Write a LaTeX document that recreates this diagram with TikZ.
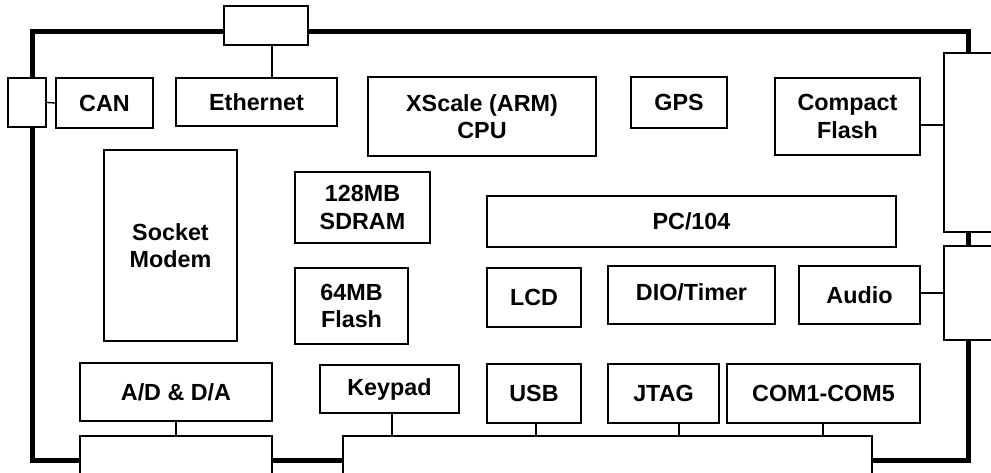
\documentclass[tikz,border=0pt]{standalone}
\usepackage{fontspec}
\setmainfont{Liberation Sans}
% \blk{x1}{y1}{x2}{y2}: a box from (x1,y1) to (x2,y2), name and text follow
\newcommand\blk[5][box]{\node[#1, minimum width={(#4-#2)*0.75pt}, minimum height={(#5-#3)*0.75pt}] at ({(#2+#4)/2},{(#3+#5)/2})}
\begin{document}
\begin{tikzpicture}[x=0.75pt,y=-0.75pt,
  lbl/.style={font=\bfseries\fontsize{17.5}{20.5}\selectfont},
  box/.style={draw, fill=white, line width=1.3pt, inner sep=0pt, align=center, lbl},
  port/.style={draw, fill=white, line width=1.3pt, inner sep=0pt},
  board/.style={line width=3.75pt},
  wire/.style={line width=1pt}]
\useasboundingbox (0,0) rectangle (991,472);
\clip (0,0) rectangle (991,472);
\fill[white] (0,0) rectangle (991,472);
% board outline
\draw[board] (32.5,31) rectangle (968,460);
% connectors on the board edge
\blk[port]{224}{6}{308}{45} (ethport) {};
\blk[port]{8}{78}{46}{127} (canport) {};
\blk[port]{944}{53}{1000}{232} (rport1) {};
\blk[port]{944}{246}{1000}{340} (rport2) {};
\blk[port]{80}{436}{272}{480} (bport1) {};
\blk[port]{343}{436}{872}{480} (bport2) {};
% function blocks
\blk{56}{78}{153}{128} (can) {CAN};
\blk{176}{78}{337}{126} (eth) {Ethernet};
\blk{368}{77}{596}{156} (cpu) {XScale (ARM)\\CPU};
\blk{631}{77}{727}{128} (gps) {GPS};
\blk{775}{78}{920}{155} (cf) {Compact\\Flash};
\blk{104}{150}{237}{341} (modem) {Socket\\Modem};
\blk{295}{172}{430}{243} (sdram) {128MB\\SDRAM};
\blk{295}{268}{408}{344} (flash) {64MB\\Flash};
\blk{487}{196}{896}{247} (pc104) {PC/104};
\blk{487}{268}{581}{327} (lcd) {LCD};
\blk{608}{266}{775}{324} (dio) {\raisebox{4pt}{DIO/Timer}};
\blk{799}{266}{920}{324} (audio) {Audio};
\blk{80}{363}{272}{421} (adda) {A/D \& D/A};
\blk{320}{365}{459}{413} (keypad) {Keypad};
\blk{487}{364}{581}{423} (usb) {USB};
\blk{608}{364}{719}{423} (jtag) {JTAG};
\blk{727}{364}{920}{423} (com) {COM1-COM5};
% wires
\draw[wire] (canport.east) -- (can.west);
\draw[wire] (272,0 |- ethport.south) -- (272,0 |- eth.north);
\draw[wire] (cf.east |- 0,125) -- (rport1.west |- 0,125);
\draw[wire] (audio.east |- 0,293) -- (rport2.west |- 0,293);
\draw[wire] (adda.south) -- (adda.south |- bport1.north);
\draw[wire] (392,0 |- keypad.south) -- (392,0 |- bport2.north);
\draw[wire] (536,0 |- usb.south) -- (536,0 |- bport2.north);
\draw[wire] (679,0 |- jtag.south) -- (679,0 |- bport2.north);
\draw[wire] (823,0 |- com.south) -- (823,0 |- bport2.north);
\end{tikzpicture}
\end{document}
